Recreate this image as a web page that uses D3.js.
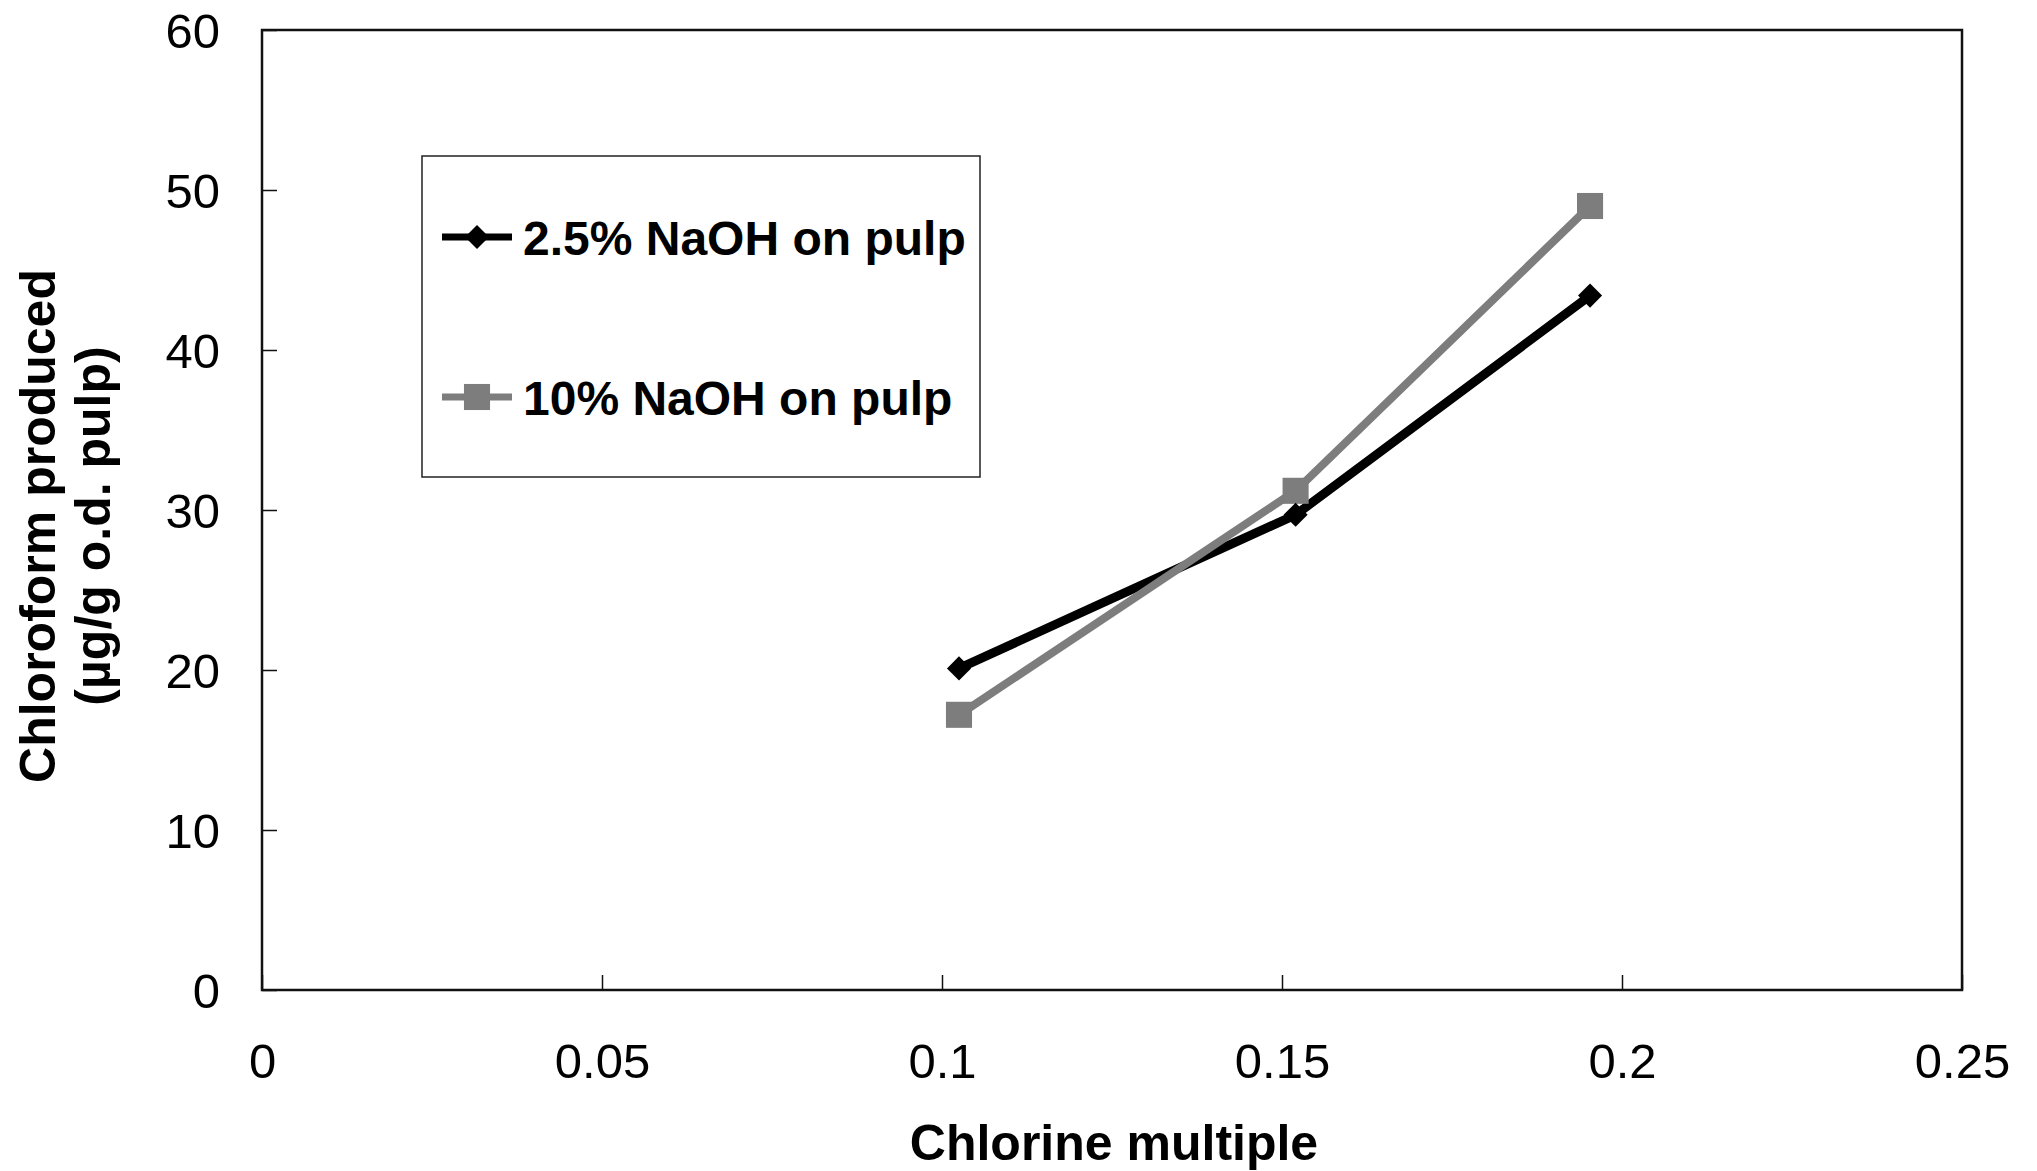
<!DOCTYPE html>
<html>
<head>
<meta charset="utf-8">
<script src="https://cdn.jsdelivr.net/npm/d3@7"></script>
<style>
  html, body { margin: 0; padding: 0; background: #fff; }
  svg { display: block; }
  text { font-family: "Liberation Sans", Arial, sans-serif; fill: #000; }
</style>
</head>
<body>
<svg id="chart" width="2037" height="1171"></svg>
<script>
// ---- data ----
const seriesNames = ["2.5% NaOH on pulp", "10% NaOH on pulp"];
const chlorineMultiple = [0.1025, 0.152, 0.1953];
const naoh25 = [20.1, 29.7, 43.4];
const naoh10 = [17.2, 31.2, 49.0];
const xTicks = [0, 0.05, 0.1, 0.15, 0.2, 0.25];
const xTickLabels = ["0", "0.05", "0.1", "0.15", "0.2", "0.25"];
const yTicks = [0, 10, 20, 30, 40, 50, 60];
const xTitle = "Chlorine multiple";
const yTitleLines = ["Chloroform produced", "(\u00b5g/g o.d. pulp)"];

// ---- layout ----
const svg = d3.select("#chart");
const L = 262, R = 1962, T = 30, B = 990;

const x = d3.scaleLinear().domain([0, 0.25]).range([L, R]);
const y = d3.scaleLinear().domain([0, 60]).range([B, T]);

// x axis (ticks inside)
const xAxis = svg.append("g")
  .attr("transform", `translate(0,${B})`)
  .call(d3.axisBottom(x).tickValues(xTicks)
    .tickFormat((d, i) => xTickLabels[i])
    .tickSizeInner(-15).tickSizeOuter(0));
xAxis.select(".domain").remove();
xAxis.selectAll(".tick line").attr("stroke", "#111").attr("stroke-width", 1.5);
xAxis.selectAll(".tick text")
  .attr("y", 88).attr("dy", 0)
  .style("font-size", "49px").attr("fill", "#000");

// y axis (ticks inside)
const yAxis = svg.append("g")
  .attr("transform", `translate(${L},0)`)
  .call(d3.axisLeft(y).tickValues(yTicks)
    .tickFormat(d3.format("d"))
    .tickSizeInner(-15).tickSizeOuter(0).tickPadding(42));
yAxis.select(".domain").remove();
yAxis.selectAll(".tick line").attr("stroke", "#111").attr("stroke-width", 1.5);
yAxis.selectAll(".tick text")
  .attr("dy", "0.36em")
  .style("font-size", "49px").attr("fill", "#000");

// frame
svg.append("rect")
  .attr("x", L).attr("y", T)
  .attr("width", R - L).attr("height", B - T)
  .attr("fill", "none").attr("stroke", "#111").attr("stroke-width", 2.5);

// axis titles
svg.append("text")
  .attr("x", 1114).attr("y", 1160)
  .attr("text-anchor", "middle")
  .style("font-size", "50px").style("font-weight", "bold")
  .text(xTitle);

const yt = svg.append("text")
  .attr("transform", "rotate(-90)")
  .attr("text-anchor", "middle")
  .style("font-size", "50px").style("font-weight", "bold");
yt.append("tspan").attr("x", -526).attr("y", 55).text(yTitleLines[0]);
yt.append("tspan").attr("x", -526).attr("y", 110).text(yTitleLines[1]);

// ---- series ----
const gray = "#7d7d7d";
const series = [
  { name: seriesNames[0], values: naoh25, color: "#000", width: 9, shape: "diamond" },
  { name: seriesNames[1], values: naoh10, color: gray, width: 8, shape: "square" }
];

const line = d3.line().x(d => x(d[0])).y(d => y(d[1]));

series.forEach(s => {
  svg.append("path")
    .datum(chlorineMultiple.map((c, i) => [c, s.values[i]]))
    .attr("d", line)
    .attr("fill", "none")
    .attr("stroke", s.color)
    .attr("stroke-width", s.width)
    .attr("stroke-linejoin", "round");
});

const diamond = d3.symbol().type(d3.symbolDiamond2).size(370);
const square = d3.symbol().type(d3.symbolSquare).size(680);

function marker(g, shape, color, cx, cy) {
  g.append("path")
    .attr("d", shape === "diamond" ? diamond() : square())
    .attr("transform", `translate(${cx},${cy})`)
    .attr("fill", color);
}

[series[1], series[0]].forEach(s => {
  chlorineMultiple.forEach((c, i) => marker(svg, s.shape, s.color, x(c), y(s.values[i])));
});

// ---- legend ----
const lg = svg.append("g");
lg.append("rect")
  .attr("x", 422).attr("y", 156).attr("width", 558).attr("height", 321)
  .attr("fill", "#fff").attr("stroke", "#222").attr("stroke-width", 1.5);

const legRows = [237, 397];
series.forEach((s, i) => {
  const cy = legRows[i];
  lg.append("line")
    .attr("x1", 442).attr("x2", 512).attr("y1", cy).attr("y2", cy)
    .attr("stroke", s.color).attr("stroke-width", 7);
  marker(lg, s.shape, s.color, 477, cy);
  lg.append("text")
    .attr("x", 523).attr("y", cy + 18)
    .style("font-size", "48px").style("font-weight", "bold")
    .text(s.name);
});
</script>
</body>
</html>
